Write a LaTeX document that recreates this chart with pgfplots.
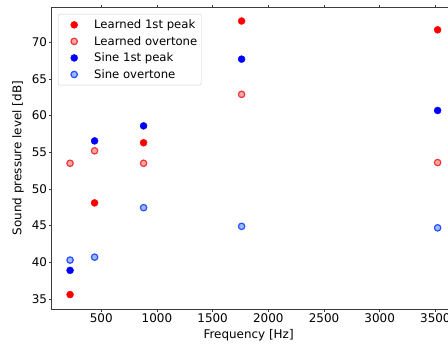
\documentclass[border=0pt]{standalone}
\usepackage{fontspec}
\setmainfont{DejaVu Sans}
\usepackage{pgfplots}
\pgfplotsset{compat=1.18}
\definecolor{loedge}{RGB}{235,55,55}
\definecolor{lofill}{RGB}{255,165,165}
\definecolor{soedge}{RGB}{45,75,255}
\definecolor{sofill}{RGB}{150,190,250}
\definecolor{spine}{RGB}{60,60,60}
\begin{document}
\begin{tikzpicture}
\useasboundingbox (-51.7bp,-38bp) rectangle (396.3bp,309bp);
\clip (-51.7bp,-38bp) rectangle (396.3bp,309bp);
\begin{axis}[
  at={(0,0)}, anchor=south west,
  scale only axis, width=404.3bp, height=301.7bp,
  xmin=55, xmax=3685, ymin=33.63, ymax=74.77,
  xtick={500,1000,...,3500}, ytick={35,40,...,70},
  scaled ticks=false,
  xticklabel style={/pgf/number format/1000 sep={}, inner sep=2bp},
  yticklabel style={inner sep=2bp},
  /pgf/number format/assume math mode=true,
  tick align=outside, major tick length=2.5bp,
  tick style={spine, line width=0.6bp},
  axis line style={spine, line width=0.6bp},
  font=\fontsize{12}{14}\selectfont,
  xlabel={Frequency [Hz]}, ylabel={Sound pressure level [dB]},
  xlabel style={at={(axis description cs:0.487,-0.0862)}, anchor=center},
  ylabel style={at={(axis description cs:-0.0834,0.5)}, anchor=center},
  legend style={at={(0,1)}, anchor=north west, xshift=6.3bp, yshift=-6.7bp,
    draw=black!20, rounded corners=2bp, font=\fontsize{11.7}{14}\selectfont,
    row sep=2.2bp, inner xsep=2bp, inner ysep=3.5bp},
  legend image code/.code={\path[draw=none,fill=none] (0bp,-3bp) rectangle (32bp,3bp); \draw plot coordinates {(14bp,0bp)};},
  legend cell align=left,
]
\addplot[only marks, mark=*, mark size=3.5bp, draw=red, fill=red]
  coordinates {(220,35.6) (440,48.1) (880,56.3) (1760,72.9) (3520,71.7)};
\addlegendentry{Learned 1st peak}
\addplot[only marks, mark=*, mark size=3.2bp, draw=loedge, fill=lofill, mark options={line width=1.2bp}]
  coordinates {(220,53.5) (440,55.2) (880,53.5) (1760,62.9) (3520,53.6)};
\addlegendentry{Learned overtone}
\addplot[only marks, mark=*, mark size=3.5bp, draw=blue, fill=blue]
  coordinates {(220,38.9) (440,56.55) (880,58.6) (1760,67.7) (3520,60.7)};
\addlegendentry{Sine 1st peak}
\addplot[only marks, mark=*, mark size=3.2bp, draw=soedge, fill=sofill, mark options={line width=1.2bp}]
  coordinates {(220,40.3) (440,40.7) (880,47.45) (1760,44.9) (3520,44.7)};
\addlegendentry{Sine overtone}
\end{axis}
\end{tikzpicture}
\end{document}
